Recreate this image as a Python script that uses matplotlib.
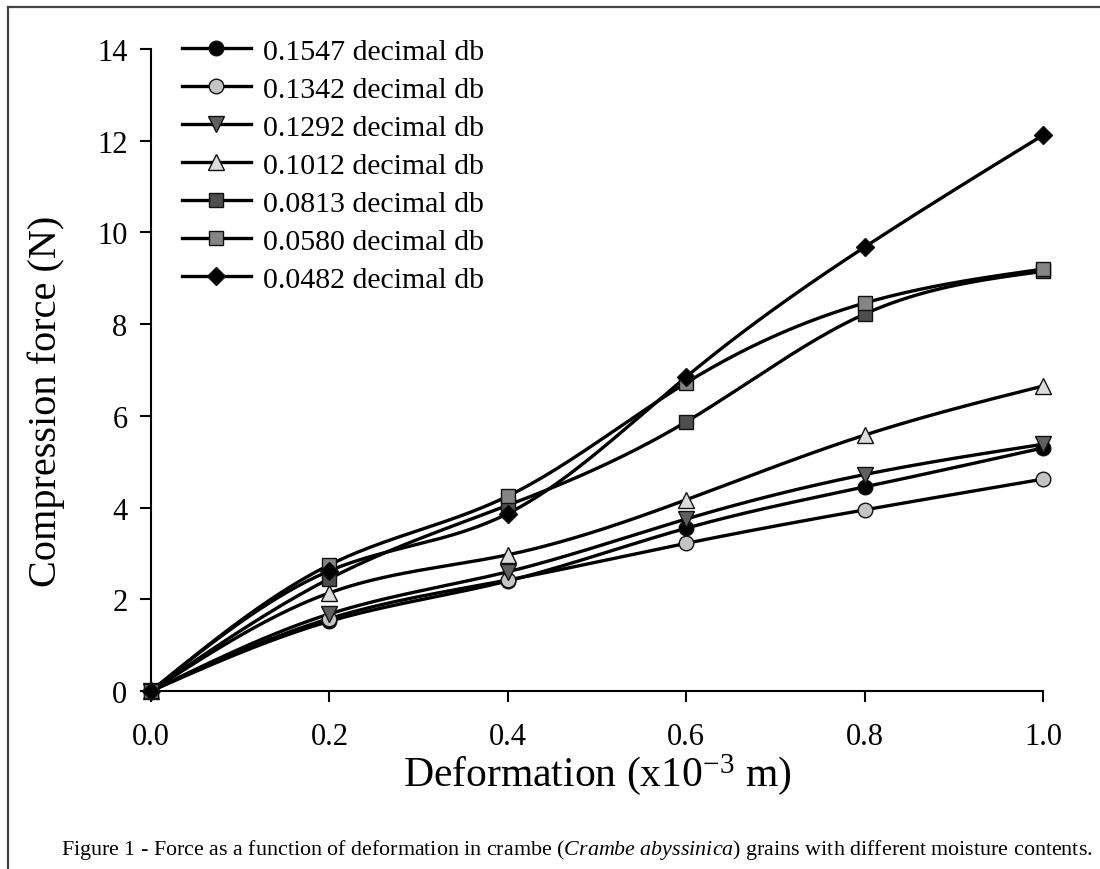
import numpy as np
import matplotlib
matplotlib.use("Agg")
import matplotlib.pyplot as plt
from matplotlib.lines import Line2D

plt.rcParams['font.family'] = ['Liberation Serif', 'DejaVu Serif']
plt.rcParams['mathtext.fontset'] = 'custom'
plt.rcParams['mathtext.rm'] = 'Liberation Serif'
plt.rcParams['mathtext.it'] = 'Liberation Serif:italic'

# ---- data ----
deformation = [0.0, 0.2, 0.4, 0.6, 0.8, 1.0]
labels = ["0.1547 decimal db", "0.1342 decimal db", "0.1292 decimal db",
          "0.1012 decimal db", "0.0813 decimal db", "0.0580 decimal db",
          "0.0482 decimal db"]
f_1547 = [0, 1.52, 2.40, 3.55, 4.45, 5.30]
f_1342 = [0, 1.58, 2.42, 3.22, 3.95, 4.62]
f_1292 = [0, 1.68, 2.60, 3.75, 4.72, 5.38]
f_1012 = [0, 2.14, 2.97, 4.17, 5.58, 6.65]
f_0813 = [0, 2.45, 4.05, 5.87, 8.22, 9.15]
f_0580 = [0, 2.75, 4.25, 6.72, 8.46, 9.20]
f_0482 = [0, 2.62, 3.87, 6.85, 9.68, 12.12]
series = [f_1547, f_1342, f_1292, f_1012, f_0813, f_0580, f_0482]
xticks = [0.0, 0.2, 0.4, 0.6, 0.8, 1.0]
yticks = [0, 2, 4, 6, 8, 10, 12, 14]

# ---- styles ----
markers = ['o', 'o', 'v', '^', 's', 's', 'D']
facecolors = ['#000000', '#c4c4c4', '#606060', '#dcdcdc', '#4e4e4e', '#858585', '#000000']
msizes = [10.5, 10.5, 11, 11, 10.5, 10.5, 9.5]


def natural_spline(x, y, n=300):
    x = np.asarray(x, float)
    y = np.asarray(y, float)
    m = len(x)
    h = np.diff(x)
    A = np.zeros((m, m))
    b = np.zeros(m)
    A[0, 0] = 1
    A[-1, -1] = 1
    for i in range(1, m - 1):
        A[i, i - 1] = h[i - 1]
        A[i, i] = 2 * (h[i - 1] + h[i])
        A[i, i + 1] = h[i]
        b[i] = 6 * ((y[i + 1] - y[i]) / h[i] - (y[i] - y[i - 1]) / h[i - 1])
    M = np.linalg.solve(A, b)
    xs = np.linspace(x[0], x[-1], n)
    ys = np.empty_like(xs)
    for k, xv in enumerate(xs):
        i = min(np.searchsorted(x, xv, side='right') - 1, m - 2)
        t1 = x[i + 1] - xv
        t0 = xv - x[i]
        ys[k] = (M[i] * t1 ** 3 / (6 * h[i]) + M[i + 1] * t0 ** 3 / (6 * h[i])
                 + (y[i] / h[i] - M[i] * h[i] / 6) * t1
                 + (y[i + 1] / h[i] - M[i + 1] * h[i] / 6) * t0)
    return xs, ys


fig = plt.figure(figsize=(11, 8.7), dpi=100)
ax = fig.add_axes([151 / 1100, 1 - 692 / 870, (1043 - 151) / 1100, (692 - 50) / 870])

handles = []
for s, mk, fc, ms, lab in zip(series, markers, facecolors, msizes, labels):
    xs, ys = natural_spline(deformation, s)
    ax.plot(xs, ys, color='black', lw=2.4, clip_on=False, zorder=2)
    ax.plot(deformation, s, linestyle='none', marker=mk, markersize=ms,
            markerfacecolor=fc, markeredgecolor='#111111', markeredgewidth=1.0,
            clip_on=False, zorder=3)
    handles.append(Line2D([], [], color='black', lw=2.4, marker=mk, markersize=ms,
                          markerfacecolor=fc, markeredgecolor='#111111',
                          markeredgewidth=1.0))

ax.set_xlim(0, 1.0)
ax.set_ylim(0, 14)
ax.set_xticks(xticks)
ax.set_xticklabels([f"{v:.1f}" for v in xticks])
ax.set_yticks(yticks)
ax.spines['top'].set_visible(False)
ax.spines['right'].set_visible(False)
for sp in ['left', 'bottom']:
    ax.spines[sp].set_linewidth(1.5)
ax.tick_params(direction='out', length=8, width=1.5, labelsize=22)
ax.tick_params(axis='x', pad=14)
ax.tick_params(axis='y', pad=9)

ax.set_xlabel('Deformation (x10$^{\\mathrm{-3}}$ m)', fontsize=30, labelpad=0)
ax.set_ylabel('Compression force (N)', fontsize=29)
ax.yaxis.set_label_coords(-0.096, 0.452)

leg = ax.legend(handles, labels, loc='upper left', bbox_to_anchor=(182 / 1100, 1 - 39 / 870),
                bbox_transform=fig.transFigure, frameon=False, fontsize=21.5,
                handlelength=2.3, handletextpad=0.4, labelspacing=0.37,
                borderaxespad=0, borderpad=0, numpoints=1)

fig.text(577 / 1100, 1 - 850 / 870,
         'Figure 1 - Force as a function of deformation in crambe ($\\mathit{Crambe\\ abyssinica}$) grains with different moisture contents.',
         ha='center', va='center', fontsize=15.8)

# frame around figure
fig.add_artist(Line2D([8 / 1100, 8 / 1100], [0, 1 - 8 / 870], color='#444444', lw=1.6,
                      transform=fig.transFigure))
fig.add_artist(Line2D([8 / 1100, 1.0], [1 - 8 / 870, 1 - 8 / 870], color='#444444', lw=1.6,
                      transform=fig.transFigure))

fig.savefig('out.png', dpi=100, facecolor='white')
